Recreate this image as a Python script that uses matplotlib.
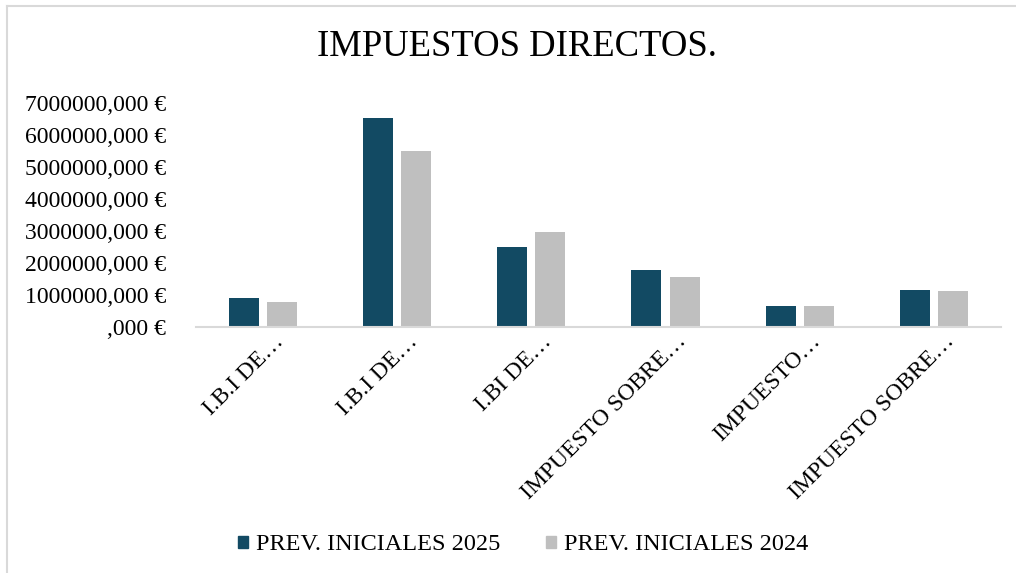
import matplotlib.pyplot as plt
import numpy as np
from matplotlib.patches import Patch
from matplotlib.ticker import FuncFormatter
from matplotlib.transforms import ScaledTranslation

categories = ["I.B.I DE\u2026", "I.B.I DE\u2026", "I.BI DE\u2026",
              "IMPUESTO SOBRE\u2026", "IMPUESTO\u2026", "IMPUESTO SOBRE\u2026"]
prev_2025 = [890000, 6530000, 2500000, 1790000, 650000, 1140000]
prev_2024 = [770000, 5500000, 2980000, 1560000, 650000, 1110000]
series_names = ["PREV. INICIALES 2025", "PREV. INICIALES 2024"]

dark = "#124A63"
grey = "#BFBFBF"
serif = ["Liberation Serif", "DejaVu Serif"]

plt.rcParams['font.family'] = serif

fig = plt.figure(figsize=(10.16, 5.73), dpi=100)
ax = fig.add_axes([0.193, 0.4298, 0.792, 0.3899])

x = np.arange(len(categories))
w = 0.224
ax.bar(x - 0.142, prev_2025, width=w, color=dark)
ax.bar(x + 0.142, prev_2024, width=w, color=grey)

ax.set_xlim(-0.5, len(categories) - 0.5)
ax.set_ylim(0, 7000000)
ax.set_yticks(np.arange(0, 7000001, 1000000))


def fmt(v, pos):
    if v == 0:
        return ",000 \u20ac"
    return f"{int(v)},000 \u20ac"


ax.yaxis.set_major_formatter(FuncFormatter(fmt))
ax.tick_params(axis='y', length=0, pad=21.5, labelsize=17)
ax.tick_params(axis='x', length=0, pad=3)
ax.set_xticks(x)
ax.set_xticklabels(categories, rotation=45, ha='right', rotation_mode='anchor',
                   fontsize=17)
# labels sit a little right of the category centre, like the original
shift = ScaledTranslation(10 / 100, 0, fig.dpi_scale_trans)
for lab in ax.get_xticklabels():
    lab.set_transform(lab.get_transform() + shift)

for s in ['top', 'right', 'left']:
    ax.spines[s].set_visible(False)
ax.spines['bottom'].set_color("#D9D9D9")
ax.spines['bottom'].set_linewidth(1.5)

fig.text(0.509, 1 - 47 / 573, "IMPUESTOS DIRECTOS.", ha='center', va='center',
         fontsize=26.4)

handles = [Patch(color=dark), Patch(color=grey)]
fig.legend(handles, series_names, loc='center', ncol=2,
           bbox_to_anchor=(523 / 1016, 1 - 545 / 573), frameon=False,
           fontsize=17.5, handlelength=0.42, handleheight=0.42,
           handletextpad=0.33, columnspacing=1.85)

# chart area border (top and left edges visible)
fig.add_artist(plt.Line2D([7 / 1016, 7 / 1016], [0, 1 - 6 / 573],
                          transform=fig.transFigure, color="#D9D9D9", lw=1.5))
fig.add_artist(plt.Line2D([7 / 1016, 1], [1 - 6 / 573, 1 - 6 / 573],
                          transform=fig.transFigure, color="#D9D9D9", lw=1.5))

fig.savefig("out.png", dpi=100)
